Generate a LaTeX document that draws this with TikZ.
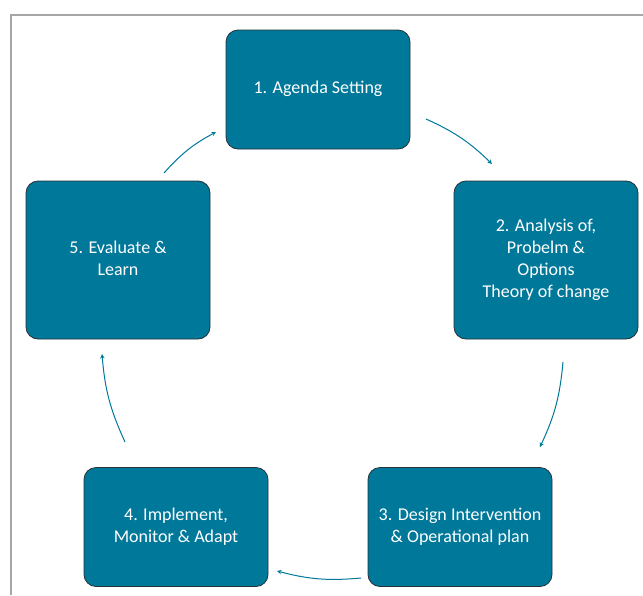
\documentclass[tikz,border=0pt]{standalone}
\usepackage{fontspec}
\setmainfont{Carlito}

\begin{document}
\begin{tikzpicture}[x=1pt, y=-1pt]
       \definecolor{petrol}{HTML}{00789A}
       \definecolor{darkpetrol}{HTML}{263238}
       \definecolor{framegray}{HTML}{A6A6A6}
       \newcommand{\stagename}[1]{\begin{tabular}{c}#1\end{tabular}}
       \tikzstyle{stage}     = [rectangle, rounded corners=12pt, minimum width=184pt, minimum height=119pt, fill = petrol, draw = darkpetrol, line width=0.8pt, text = white, font=\fontsize{18pt}{22pt}\selectfont]
       \tikzstyle{tallstage} = [stage, minimum height=158pt]
       \tikzstyle{connector} = [line width=1pt, -stealth, draw = petrol, bend left=10]

       \useasboundingbox (0,0) rectangle (643,595);
       \draw [framegray, line width=1.2pt] (643,15) -- (11,15) -- (11,595);

       \node [stage]     (agenda)    at (318,89.5)  {\stagename{1. Agenda Setting}};
       \node [tallstage] (analysis)  at (546,260)   {\stagename{2. Analysis of,\\ Probelm \&\\ Options\\ Theory of change}};
       \node [stage]     (design)    at (460,527)   {\stagename{3. Design Intervention\\ \& Operational plan}};
       \node [stage]     (implement) at (176,527)   {\stagename{4. Implement,\\ Monitor \& Adapt}};
       \node [tallstage] (evaluate)  at (118,260)   {\stagename{5. Evaluate \&\\ Learn}};

       \coordinate (agendaout)    at (426,119);
       \coordinate (analysisin)   at (492,164);
       \coordinate (analysisout)  at (563,362);
       \coordinate (designin)     at (540,447);
       \coordinate (designout)    at (361,578);
       \coordinate (implementin)  at (277,571);
       \coordinate (implementout) at (125,442);
       \coordinate (evaluatein)   at (102,354);
       \coordinate (evaluateout)  at (164,173);
       \coordinate (agendain)     at (216,132);

       \draw [connector] (agendaout)    to (analysisin);
       \draw [connector] (analysisout)  to (designin);
       \draw [connector] (designout)    to (implementin);
       \draw [connector] (implementout) to (evaluatein);
       \draw [connector] (evaluateout)  to (agendain);
\end{tikzpicture}
\end{document}
